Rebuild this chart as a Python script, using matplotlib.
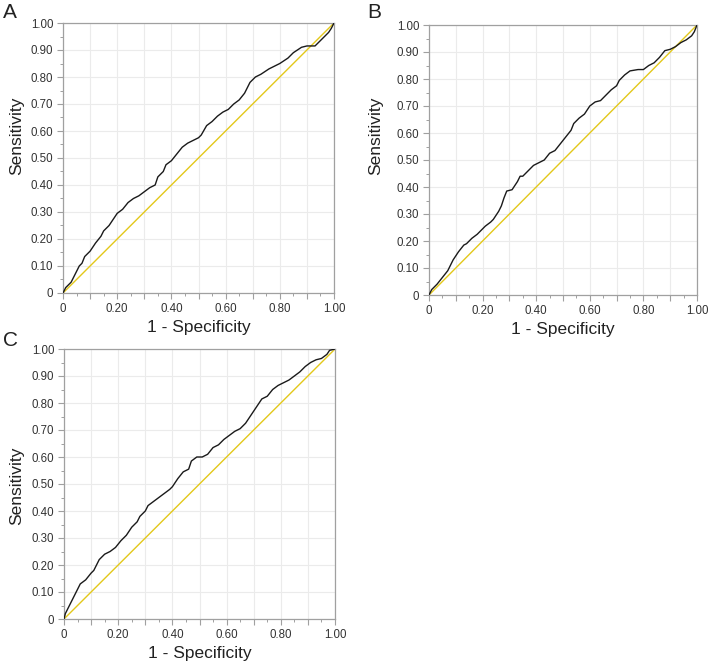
import matplotlib
matplotlib.use("Agg")
import matplotlib.pyplot as plt
from matplotlib.ticker import MultipleLocator, FuncFormatter

plt.rcParams['font.family'] = ['Liberation Sans', 'DejaVu Sans']

# ROC curve A
a_fpr = [0, 0.01, 0.03, 0.05, 0.06, 0.07, 0.08, 0.10, 0.12, 0.14, 0.15, 0.17, 0.19, 0.20,
         0.22, 0.24, 0.26, 0.28, 0.30, 0.32, 0.34, 0.35, 0.37, 0.38, 0.40, 0.42, 0.44, 0.46,
         0.48, 0.50, 0.51, 0.53, 0.55, 0.57, 0.59, 0.61, 0.63, 0.65, 0.67, 0.69, 0.71, 0.73,
         0.76, 0.80, 0.83, 0.85, 0.88, 0.90, 0.93, 0.95, 0.97, 0.98, 0.99, 1.0]
a_tpr = [0, 0.02, 0.04, 0.08, 0.10, 0.11, 0.135, 0.155, 0.185, 0.21, 0.23, 0.25, 0.28, 0.295,
         0.31, 0.335, 0.35, 0.36, 0.375, 0.39, 0.40, 0.43, 0.45, 0.475, 0.49, 0.515, 0.54, 0.555,
         0.565, 0.575, 0.585, 0.62, 0.635, 0.655, 0.67, 0.68, 0.70, 0.715, 0.74, 0.78, 0.80, 0.81,
         0.83, 0.85, 0.87, 0.89, 0.91, 0.915, 0.915, 0.935, 0.955, 0.965, 0.98, 1.0]

# ROC curve B
b_fpr = [0, 0.01, 0.03, 0.05, 0.07, 0.08, 0.09, 0.11, 0.13, 0.14, 0.16, 0.18, 0.19, 0.21,
         0.23, 0.24, 0.26, 0.27, 0.28, 0.29, 0.31, 0.33, 0.34, 0.35, 0.37, 0.39, 0.41, 0.43,
         0.45, 0.47, 0.49, 0.51, 0.53, 0.54, 0.56, 0.58, 0.60, 0.62, 0.64, 0.66, 0.68, 0.70,
         0.71, 0.73, 0.75, 0.78, 0.80, 0.82, 0.84, 0.86, 0.88, 0.90, 0.92, 0.94, 0.96, 0.98,
         0.99, 1.0]
b_tpr = [0, 0.02, 0.04, 0.065, 0.09, 0.11, 0.13, 0.16, 0.185, 0.19, 0.21, 0.225, 0.235, 0.255,
         0.27, 0.28, 0.31, 0.33, 0.36, 0.385, 0.39, 0.42, 0.44, 0.44, 0.46, 0.48, 0.49, 0.50,
         0.525, 0.535, 0.56, 0.585, 0.61, 0.635, 0.655, 0.67, 0.70, 0.715, 0.72, 0.74, 0.76, 0.775,
         0.795, 0.815, 0.83, 0.835, 0.835, 0.85, 0.86, 0.88, 0.905, 0.91, 0.92, 0.935, 0.945, 0.96,
         0.975, 1.0]

# ROC curve C
c_fpr = [0, 0.005, 0.01, 0.02, 0.03, 0.04, 0.05, 0.06, 0.08, 0.10, 0.11, 0.12, 0.13, 0.15,
         0.17, 0.19, 0.21, 0.23, 0.25, 0.27, 0.28, 0.30, 0.31, 0.33, 0.35, 0.37, 0.39, 0.40,
         0.42, 0.44, 0.46, 0.47, 0.49, 0.51, 0.53, 0.55, 0.57, 0.59, 0.61, 0.63, 0.65, 0.67,
         0.69, 0.70, 0.72, 0.73, 0.75, 0.77, 0.79, 0.81, 0.83, 0.85, 0.87, 0.89, 0.91, 0.93,
         0.95, 0.97, 0.98, 1.0]
c_tpr = [0, 0.02, 0.03, 0.05, 0.07, 0.09, 0.11, 0.13, 0.145, 0.17, 0.18, 0.20, 0.22, 0.24,
         0.25, 0.265, 0.29, 0.31, 0.34, 0.36, 0.38, 0.40, 0.42, 0.435, 0.45, 0.465, 0.48, 0.49,
         0.52, 0.545, 0.555, 0.585, 0.60, 0.60, 0.61, 0.635, 0.645, 0.665, 0.68, 0.695, 0.705, 0.725,
         0.755, 0.77, 0.80, 0.815, 0.825, 0.85, 0.865, 0.875, 0.885, 0.90, 0.915, 0.935, 0.95, 0.96,
         0.965, 0.98, 0.995, 1.0]

diag = [0, 1]
panel_labels = ["A", "B", "C"]
x_label = "1 - Specificity"
y_label = "Sensitivity"

fig = plt.figure(figsize=(7.08, 6.64), dpi=100)

W, H = 708, 664
boxes = [(63, 23, 334, 293), (429, 25, 697, 295), (64, 349, 335, 619)]
letters_pos = [(10, 12), (374, 12), (10, 341)]
ylab_pos = [(17, 136), (376, 136), (17, 486)]
curves = [(a_fpr, a_tpr), (b_fpr, b_tpr), (c_fpr, c_tpr)]

def fmt(v, pos):
    if abs(v) < 1e-9:
        return "0"
    return "%.2f" % v

def xfmt(v, pos):
    r = round(v * 10)
    if r % 2 != 0:
        return ""
    return fmt(v, pos)

spine_col = "#a0a0a0"
for (l, t, r, b), (lx, ly), (yx, yy), (fx, ty), lab in zip(boxes, letters_pos, ylab_pos, curves, panel_labels):
    ax = fig.add_axes([l / W, 1 - b / H, (r - l) / W, (b - t) / H])
    ax.set_xlim(0, 1)
    ax.set_ylim(0, 1)
    ax.xaxis.set_major_locator(MultipleLocator(0.1))
    ax.xaxis.set_minor_locator(MultipleLocator(0.05))
    ax.yaxis.set_major_locator(MultipleLocator(0.1))
    ax.yaxis.set_minor_locator(MultipleLocator(0.05))
    ax.xaxis.set_major_formatter(FuncFormatter(xfmt))
    ax.yaxis.set_major_formatter(FuncFormatter(fmt))
    ax.grid(True, which="major", color="#ebebeb", linewidth=0.8)
    ax.set_axisbelow(True)
    for s in ax.spines.values():
        s.set_color(spine_col)
        s.set_linewidth(0.9)
    ax.tick_params(which="major", length=4, width=0.8, color=spine_col,
                   labelsize=8.3, labelcolor="#333333", pad=3)
    ax.tick_params(which="minor", length=2.5, width=0.7, color=spine_col)
    ax.plot(diag, diag, color="#e3c81a", linewidth=1.0, zorder=2)
    ax.plot(fx, ty, color="#1a1a1a", linewidth=1.0, zorder=3)
    ax.set_xlabel(x_label, fontsize=12.5, color="#222222", labelpad=4)
    ax.set_ylabel(y_label, fontsize=12.5, color="#222222")
    ax.yaxis.set_label_coords((yx - l) / (r - l), (b - yy) / (b - t))
    ax.yaxis.label.set_verticalalignment("center")
    fig.text(lx / W, 1 - ly / H, lab, fontsize=15, color="#222222",
             ha="center", va="center")

fig.savefig("out.png", dpi=100)
